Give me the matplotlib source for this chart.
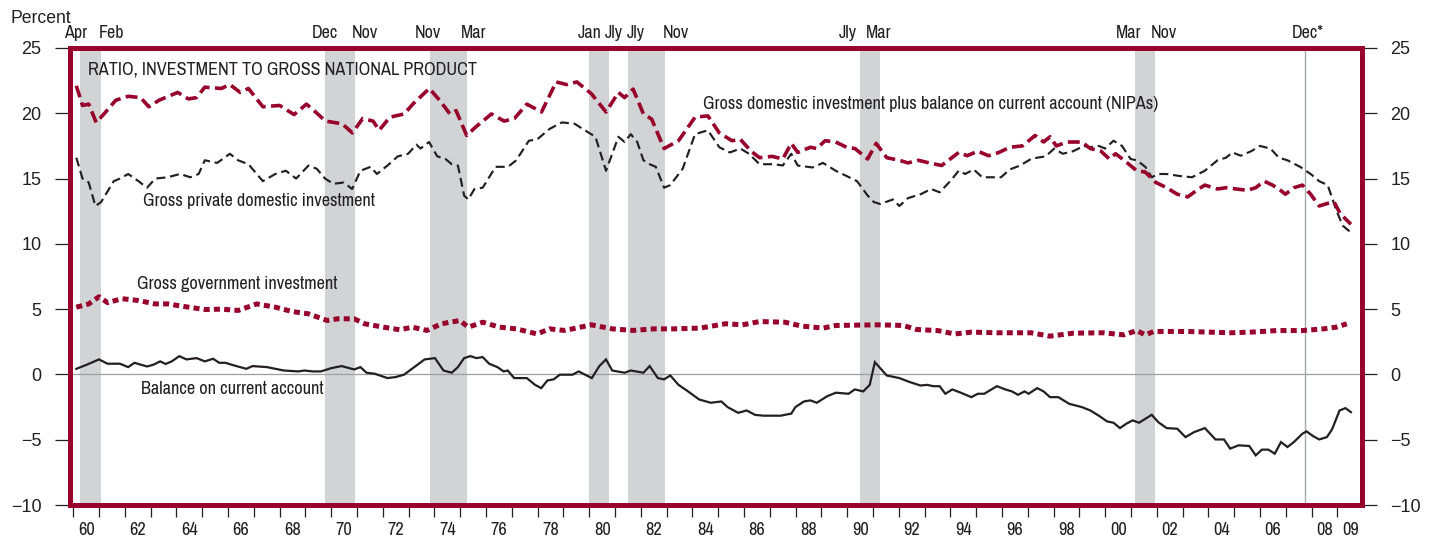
import matplotlib
matplotlib.use("Agg")
import matplotlib.pyplot as plt
from matplotlib import font_manager as fm
from matplotlib.ticker import FixedLocator, NullFormatter, FixedFormatter

# ---------------- data ----------------
total_years = [1960.12, 1960.36, 1960.6, 1960.89, 1961.17, 1961.65, 1962.13, 1962.61, 1962.93, 1963.33,
               1964.05, 1964.46, 1964.78, 1965.1, 1965.74, 1966.07, 1966.47, 1966.79, 1967.35, 1968.0,
               1968.56, 1969.04, 1969.28, 1969.78, 1970.42, 1970.82, 1971.22, 1971.62, 1971.86, 1972.27,
               1972.83, 1973.16, 1973.8, 1974.2, 1974.6, 1974.84, 1975.25, 1975.57, 1976.21, 1976.7,
               1977.1, 1977.58, 1978.15, 1978.72, 1979.12, 1979.52, 1980.08, 1980.65, 1981.13, 1981.37,
               1981.7, 1982.1, 1982.42, 1982.9, 1983.46, 1984.1, 1984.6, 1985.04, 1985.53, 1985.86,
               1986.27, 1986.6, 1987.09, 1987.5, 1987.83, 1988.08, 1988.57, 1988.82, 1989.14, 1989.55,
               1989.97, 1990.3, 1990.79, 1991.12, 1991.53, 1992.02, 1992.35, 1992.76, 1993.17, 1993.66,
               1993.99, 1994.32, 1994.65, 1995.06, 1995.47, 1995.88, 1996.3, 1996.79, 1997.28, 1997.61,
               1997.86, 1998.1, 1998.51, 1999.09, 1999.42, 1999.83, 2000.16, 2000.4, 2000.73, 2001.22,
               2001.55, 2001.96, 2002.38, 2002.79, 2003.2, 2003.61, 2003.86, 2004.35, 2004.68, 2005.09,
               2005.5, 2005.83, 2006.16, 2006.48, 2006.73, 2006.98, 2007.31, 2007.64, 2007.96, 2008.29,
               2008.62, 2008.87, 2009.11, 2009.52]
total_vals = [22.1, 20.6, 20.7, 19.3, 19.9, 21.0, 21.3, 21.2, 20.5, 21.0,
              21.6, 21.1, 21.2, 22.0, 21.9, 22.2, 21.6, 21.9, 20.5, 20.6,
              19.9, 20.7, 20.3, 19.4, 19.2, 18.5, 19.6, 19.4, 18.7, 19.7,
              19.95, 20.7, 21.9, 21.0, 19.95, 20.2, 18.3, 18.9, 19.95, 19.4,
              19.6, 20.7, 20.1, 22.4, 22.2, 22.4, 21.5, 20.1, 21.6, 21.2,
              21.85, 19.95, 19.55, 17.3, 17.9, 19.7, 19.8, 18.5, 17.9, 18.0,
              17.1, 16.6, 16.7, 16.5, 17.7, 17.0, 17.4, 17.3, 17.9, 17.8,
              17.4, 17.3, 16.5, 17.7, 16.6, 16.4, 16.2, 16.4, 16.2, 16.0,
              16.5, 17.0, 16.75, 17.1, 16.75, 17.0, 17.4, 17.5, 18.3, 17.8,
              18.2, 17.5, 17.8, 17.8, 17.3, 17.1, 16.5, 16.9, 16.4, 15.6,
              15.5, 14.7, 14.3, 13.8, 13.6, 14.2, 14.5, 14.2, 14.3, 14.2,
              14.1, 14.3, 14.8, 14.5, 14.2, 13.8, 14.3, 14.5, 13.8, 12.9,
              13.1, 13.2, 12.3, 11.5]

private_years = [1960.12, 1960.36, 1960.6, 1960.86, 1961.08, 1961.57, 1961.81, 1962.13, 1962.53, 1962.86,
                 1963.18, 1963.66, 1964.14, 1964.54, 1964.86, 1965.1, 1965.58, 1966.07, 1966.39, 1966.79,
                 1967.35, 1967.83, 1968.24, 1968.64, 1969.12, 1969.44, 1969.76, 1970.08, 1970.49, 1970.81,
                 1971.13, 1971.53, 1971.77, 1972.18, 1972.58, 1972.98, 1973.3, 1973.46, 1973.79, 1974.11,
                 1974.43, 1974.67, 1974.91, 1975.15, 1975.31, 1975.55, 1975.87, 1976.37, 1976.85, 1977.17,
                 1977.66, 1977.98, 1978.46, 1978.94, 1979.43, 1979.83, 1980.24, 1980.65, 1981.13, 1981.37,
                 1981.61, 1981.86, 1982.1, 1982.34, 1982.58, 1982.9, 1983.14, 1983.62, 1984.1, 1984.6,
                 1985.04, 1985.45, 1985.86, 1986.19, 1986.6, 1987.17, 1987.5, 1987.83, 1988.08, 1988.65,
                 1989.06, 1989.55, 1989.97, 1990.38, 1990.79, 1991.03, 1991.28, 1991.77, 1992.02, 1992.35,
                 1992.84, 1993.25, 1993.58, 1993.99, 1994.32, 1994.57, 1994.9, 1995.23, 1995.64, 1995.96,
                 1996.3, 1996.7, 1997.12, 1997.36, 1997.69, 1998.02, 1998.35, 1998.76, 1999.17, 1999.42,
                 1999.75, 1999.99, 2000.32, 2000.65, 2000.98, 2001.22, 2001.55, 2001.8, 2002.05, 2002.38,
                 2002.87, 2003.36, 2003.86, 2004.35, 2004.68, 2004.93, 2005.25, 2005.66, 2005.99, 2006.4,
                 2006.73, 2007.06, 2007.55, 2007.96, 2008.29, 2008.62, 2008.95, 2009.2, 2009.44, 2009.52]
private_vals = [16.6, 15.0, 14.7, 12.9, 13.2, 14.8, 15.0, 15.35, 14.8, 14.3,
                15.0, 15.1, 15.35, 15.1, 15.35, 16.4, 16.2, 16.9, 16.4, 16.1,
                14.8, 15.35, 15.6, 15.0, 16.0, 15.75, 15.0, 14.6, 14.7, 14.2,
                15.6, 15.9, 15.35, 16.0, 16.7, 16.9, 17.6, 17.3, 17.8, 16.7,
                16.5, 16.1, 16.0, 13.7, 13.4, 14.2, 14.3, 15.9, 15.9, 16.4,
                17.9, 18.0, 18.8, 19.3, 19.2, 18.7, 18.2, 15.6, 18.2, 17.8,
                18.4, 17.8, 16.4, 16.1, 15.9, 14.3, 14.5, 15.75, 18.4, 18.7,
                17.4, 17.0, 17.3, 16.9, 16.1, 16.1, 16.0, 16.9, 16.0, 15.85,
                16.2, 15.6, 15.2, 14.8, 13.7, 13.2, 13.05, 13.4, 12.9, 13.5,
                13.8, 14.2, 13.95, 14.8, 15.6, 15.35, 15.7, 15.1, 15.1, 15.1,
                15.7, 16.0, 16.5, 16.6, 16.7, 17.3, 16.9, 17.1, 17.5, 17.4,
                17.5, 17.3, 17.9, 17.5, 16.5, 16.4, 15.9, 15.1, 15.35, 15.35,
                15.2, 15.1, 15.6, 16.4, 16.6, 17.0, 16.75, 17.1, 17.5, 17.3,
                16.6, 16.4, 15.9, 15.35, 14.8, 14.5, 12.6, 11.4, 11.0, 11.2]

govt_years = [1960.12, 1960.6, 1961.0, 1961.33, 1961.89, 1962.53, 1963.18, 1963.66, 1964.3, 1965.1,
              1965.74, 1966.39, 1967.11, 1967.83, 1968.48, 1969.12, 1969.84, 1970.25, 1970.89, 1971.29,
              1972.02, 1972.66, 1973.14, 1973.71, 1974.27, 1974.99, 1975.31, 1975.87, 1976.52, 1977.17,
              1977.98, 1978.46, 1979.02, 1979.35, 1980.08, 1980.89, 1981.7, 1982.5, 1983.3, 1984.3,
              1985.28, 1985.94, 1986.6, 1987.58, 1988.24, 1989.06, 1989.56, 1991.2, 1992.18, 1992.68,
              1993.5, 1994.16, 1994.82, 1995.8, 1997.12, 1997.85, 1998.76, 1999.91, 2000.73, 2001.22,
              2001.55, 2001.88, 2003.2, 2004.84, 2005.66, 2006.65, 2007.64, 2008.46, 2008.95, 2009.36]
govt_vals = [5.15, 5.4, 5.95, 5.5, 5.8, 5.66, 5.4, 5.4, 5.2, 4.97,
             5.0, 4.9, 5.4, 5.15, 4.82, 4.64, 4.13, 4.26, 4.26, 3.88,
             3.62, 3.42, 3.62, 3.37, 3.88, 4.13, 3.62, 4.0, 3.62, 3.49,
             3.1, 3.49, 3.37, 3.49, 3.8, 3.49, 3.37, 3.49, 3.49, 3.55,
             3.88, 3.8, 4.05, 4.0, 3.7, 3.55, 3.75, 3.8, 3.75, 3.44,
             3.36, 3.1, 3.24, 3.19, 3.19, 2.93, 3.16, 3.19, 3.03, 3.36,
             3.03, 3.29, 3.29, 3.19, 3.24, 3.36, 3.36, 3.49, 3.62, 3.88]

balance_years = [1960.12, 1960.52, 1961.0, 1961.33, 1961.81, 1962.13, 1962.37, 1962.86, 1963.1, 1963.37,
                 1963.58, 1963.82, 1964.11, 1964.39, 1964.78, 1965.1, 1965.42, 1965.66, 1965.9, 1966.23,
                 1966.71, 1966.95, 1967.51, 1968.16, 1968.72, 1968.96, 1969.28, 1969.6, 1970.0, 1970.4,
                 1970.89, 1971.13, 1971.37, 1971.69, 1972.18, 1972.5, 1972.82, 1973.22, 1973.62, 1974.02,
                 1974.35, 1974.67, 1974.91, 1975.15, 1975.39, 1975.63, 1975.87, 1976.12, 1976.44, 1976.68,
                 1976.84, 1977.09, 1977.58, 1977.9, 1978.14, 1978.38, 1978.62, 1978.86, 1979.35, 1979.59,
                 1980.1, 1980.39, 1980.65, 1980.89, 1981.37, 1981.61, 1982.1, 1982.34, 1982.66, 1982.9,
                 1983.14, 1983.46, 1983.78, 1984.26, 1984.71, 1985.12, 1985.36, 1985.77, 1986.1, 1986.43,
                 1986.76, 1987.42, 1987.83, 1987.99, 1988.32, 1988.57, 1988.82, 1989.23, 1989.56, 1990.05,
                 1990.29, 1990.62, 1990.87, 1991.07, 1991.53, 1992.02, 1992.43, 1992.84, 1993.09, 1993.34,
                 1993.58, 1993.8, 1994.07, 1994.4, 1994.81, 1995.06, 1995.31, 1995.8, 1996.13, 1996.38,
                 1996.62, 1996.87, 1997.03, 1997.36, 1997.61, 1997.86, 1998.18, 1998.6, 1999.09, 1999.42,
                 1999.75, 2000.07, 2000.32, 2000.57, 2000.81, 2001.06, 2001.31, 2001.55, 2001.8, 2002.05,
                 2002.38, 2002.79, 2003.11, 2003.44, 2003.86, 2004.27, 2004.6, 2004.84, 2005.17, 2005.58,
                 2005.83, 2006.07, 2006.32, 2006.57, 2006.81, 2007.06, 2007.31, 2007.64, 2007.8, 2008.05,
                 2008.29, 2008.59, 2008.79, 2009.08, 2009.31, 2009.52]
balance_vals = [0.43, 0.74, 1.15, 0.82, 0.82, 0.56, 0.89, 0.61, 0.74, 1.0,
                0.8, 1.0, 1.4, 1.15, 1.25, 1.0, 1.2, 0.89, 0.89, 0.69,
                0.43, 0.64, 0.56, 0.3, 0.23, 0.3, 0.23, 0.23, 0.48, 0.64,
                0.38, 0.56, 0.13, 0.05, -0.28, -0.2, -0.02, 0.56, 1.15, 1.25,
                0.3, 0.13, 0.56, 1.25, 1.4, 1.25, 1.33, 0.82, 0.56, 0.23,
                0.3, -0.28, -0.28, -0.8, -1.05, -0.46, -0.38, -0.02, -0.02, 0.23,
                -0.28, 0.64, 1.15, 0.3, 0.13, 0.3, 0.13, 0.64, -0.28, -0.38,
                -0.08, -0.8, -1.23, -1.92, -2.17, -2.07, -2.5, -2.94, -2.76, -3.1,
                -3.16, -3.16, -3.0, -2.5, -2.07, -1.99, -2.17, -1.66, -1.4, -1.48,
                -1.15, -1.3, -0.8, 0.94, -0.08, -0.28, -0.59, -0.85, -0.8, -0.9,
                -0.9, -1.48, -1.15, -1.4, -1.74, -1.48, -1.48, -0.9, -1.15, -1.3,
                -1.56, -1.3, -1.48, -1.05, -1.3, -1.74, -1.74, -2.25, -2.5, -2.76,
                -3.16, -3.6, -3.7, -4.11, -3.78, -3.52, -3.7, -3.4, -3.09, -3.65,
                -4.11, -4.16, -4.8, -4.42, -4.11, -4.98, -4.98, -5.68, -5.43, -5.48,
                -6.2, -5.76, -5.76, -6.07, -5.18, -5.56, -5.18, -4.54, -4.36, -4.72,
                -4.98, -4.8, -4.21, -2.76, -2.58, -2.89]

recession_starts = [1960.25, 1969.75, 1973.83, 1980.0, 1981.5, 1990.5, 2001.17]
recession_ends = [1961.08, 1970.92, 1975.25, 1980.75, 1982.92, 1991.25, 2001.92]
latest_peak = 2007.76

month_labels = ["Apr", "Feb", "Dec", "Nov", "Nov", "Mar", "Jan", "Jly", "Jly", "Nov",
                "Jly", "Mar", "Mar", "Nov", "Dec*"]
month_label_x = [1960.07, 1961.47, 1969.76, 1971.31, 1973.75, 1975.53, 1980.03, 1980.96,
                 1981.81, 1983.36, 1990.03, 1991.23, 2000.92, 2002.27, 2007.86]

yticks = [-10, -5, 0, 5, 10, 15, 20, 25]
xlabel_years = list(range(1960, 2009, 2)) + [2009]
xlabel_text = ["%02d" % (y % 100) for y in xlabel_years]

# ---------------- style ----------------
RED = "#98002E"
BLACK = "#231F20"
GREY = "#D1D3D4"


def has_font(name):
    try:
        fm.findfont(fm.FontProperties(family=name), fallback_to_default=False)
        return True
    except Exception:
        return False


COND, cscale = "Liberation Sans", 0.84
for name, sc in [("Liberation Sans Narrow", 1.04), ("Archivo Narrow", 1.01), ("Roboto Condensed", 1.0)]:
    if has_font(name):
        COND, cscale = name, sc
        break
REG = "Liberation Sans"

plt.rcParams["font.family"] = [REG, "DejaVu Sans"]

fig = plt.figure(figsize=(14.34, 5.40), dpi=100)
ax = fig.add_axes([70 / 1434, 1 - 505 / 540, (1362 - 70) / 1434, (505 - 48) / 540])
ax.set_xlim(1959.875, 2009.95)
ax.set_ylim(-10, 25)

for s, e in zip(recession_starts, recession_ends):
    ax.axvspan(s, e, color=GREY, lw=0, zorder=0)
ax.axvline(latest_peak, color="#A7A9AC", lw=1.0, zorder=1)
ax.axhline(0, color="#9D9FA2", lw=0.9, zorder=1)

ax.plot(total_years, total_vals, color=RED, lw=2.6, ls=(0, (3.3, 1.5)), zorder=4,
        dash_capstyle="butt", solid_joinstyle="round")
ax.plot(private_years, private_vals, color=BLACK, lw=1.55, ls=(0, (4.2, 2.2)), zorder=3,
        dash_capstyle="butt")
ax.plot(govt_years, govt_vals, color=RED, lw=3.6, ls=(0, (1.2, 0.85)), zorder=3,
        dash_capstyle="butt")
ax.plot(balance_years, balance_vals, color=BLACK, lw=1.6, zorder=3, solid_joinstyle="miter")

for sp in ax.spines.values():
    sp.set_color(RED)
    sp.set_linewidth(3.6)
    sp.set_zorder(5)

ax.set_yticks(yticks)
ax.set_yticklabels([("\u2212%d" % -v) if v < 0 else "%d" % v for v in yticks])
ax.tick_params(axis="y", which="major", left=True, right=True, labelleft=True, labelright=True,
               direction="out", length=11, width=0.9, color=BLACK, pad=9.5,
               labelsize=13, labelcolor=BLACK)
for lab in ax.get_yticklabels():
    lab.set_fontfamily(REG)

ax.xaxis.set_major_locator(FixedLocator(list(range(1960, 2010))))
ax.xaxis.set_major_formatter(NullFormatter())
ax.xaxis.set_minor_locator(FixedLocator([y + 0.5 for y in xlabel_years]))
ax.xaxis.set_minor_formatter(FixedFormatter(xlabel_text))
ax.tick_params(axis="x", which="major", direction="out", length=8.5, width=0.9, color=BLACK)
ax.tick_params(axis="x", which="minor", length=0, pad=12, labelsize=13 * cscale,
               labelcolor=BLACK)
for lab in ax.xaxis.get_minorticklabels():
    lab.set_fontfamily(COND)

# texts
ax.text(1960.57, 22.95, "RATIO, INVESTMENT TO GROSS NATIONAL PRODUCT", fontsize=13 * cscale,
        family=COND, color=BLACK, va="baseline", ha="left", zorder=6)
ax.text(1984.4, 20.35, "Gross domestic investment plus balance on current account (NIPAs)",
        fontsize=13 * cscale, family=COND, color=BLACK, va="baseline", ha="left", zorder=6)
ax.text(1962.71, 12.93, "Gross private domestic investment", fontsize=13 * cscale,
        family=COND, color=BLACK, va="baseline", ha="left", zorder=6)
ax.text(1962.48, 6.58, "Gross government investment", fontsize=13 * cscale,
        family=COND, color=BLACK, va="baseline", ha="left", zorder=6)
ax.text(1962.63, -1.53, "Balance on current account", fontsize=13 * cscale,
        family=COND, color=BLACK, va="baseline", ha="left", zorder=6)

xt = ax.get_xaxis_transform()
for lab, x in zip(month_labels, month_label_x):
    ax.text(x, 1.022, lab, transform=xt, fontsize=12.8 * cscale, family=COND, color=BLACK,
            ha="center", va="baseline", clip_on=False)

fig.text(10 / 1434, 1 - 23 / 540, "Percent", fontsize=12.7, family=REG, color=BLACK,
         ha="left", va="baseline")

fig.savefig("out.png", dpi=100)
